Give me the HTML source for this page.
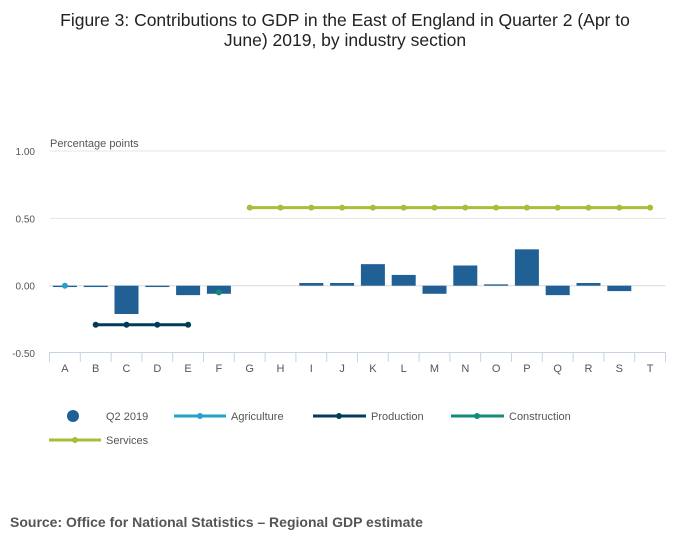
<!DOCTYPE html>
<html><head><meta charset="utf-8"><style>
body{margin:0;background:#fff;font-family:"Liberation Sans",sans-serif;}
svg text{font-family:"Liberation Sans",sans-serif;}
</style></head><body>
<svg width="700" height="549" xmlns="http://www.w3.org/2000/svg">
<text x="345" y="26" text-anchor="middle" font-size="17.5" fill="#222">Figure 3: Contributions to GDP in the East of England in Quarter 2 (Apr to</text>
<text x="345" y="46" text-anchor="middle" font-size="17.5" fill="#222">June) 2019, by industry section</text>
<text x="50" y="147" font-size="11" fill="#555">Percentage points</text>
<g id="grid"></g><g id="bars"></g><g id="lines"></g><g id="xaxis"></g>
<g>
<circle cx="73" cy="416" r="6" fill="#206095"/>
<text x="106" y="420" font-size="11" fill="#555">Q2 2019</text>
<line x1="174" y1="416" x2="226" y2="416" stroke="#27a0cc" stroke-width="3"/><circle cx="200" cy="416" r="3" fill="#27a0cc"/>
<text x="231" y="420" font-size="11" fill="#555">Agriculture</text>
<line x1="313" y1="416" x2="366" y2="416" stroke="#003c57" stroke-width="3"/><circle cx="339" cy="416" r="3" fill="#003c57"/>
<text x="371" y="420" font-size="11" fill="#555">Production</text>
<line x1="451" y1="416" x2="504" y2="416" stroke="#118c7b" stroke-width="3"/><circle cx="477" cy="416" r="3" fill="#118c7b"/>
<text x="509" y="420" font-size="11" fill="#555">Construction</text>
<line x1="49" y1="440" x2="101" y2="440" stroke="#a8bd3a" stroke-width="3"/><circle cx="75" cy="440" r="3" fill="#a8bd3a"/>
<text x="106" y="444" font-size="11" fill="#555">Services</text>
</g>
<text x="10" y="527" font-size="14" font-weight="bold" fill="#555">Source: Office for National Statistics – Regional GDP estimate</text>
</svg>
<script>
const categories=["A","B","C","D","E","F","G","H","I","J","K","L","M","N","O","P","Q","R","S","T"];
const q2Values=[-0.01,-0.01,-0.21,-0.01,-0.07,-0.06,0,0,0.02,0.02,0.16,0.08,-0.06,0.15,0.01,0.27,-0.07,0.02,-0.04,0];
const agriculture=[0,null,null,null,null,null,null,null,null,null,null,null,null,null,null,null,null,null,null,null];
const production=[null,-0.29,-0.29,-0.29,-0.29,null,null,null,null,null,null,null,null,null,null,null,null,null,null,null];
const construction=[null,null,null,null,null,-0.05,null,null,null,null,null,null,null,null,null,null,null,null,null,null];
const services=[null,null,null,null,null,null,0.58,0.58,0.58,0.58,0.58,0.58,0.58,0.58,0.58,0.58,0.58,0.58,0.58,0.58];
const yTicks=[1.0,0.5,0,-0.5];
const yTickLabels=["1.00","0.50","0.00","-0.50"];
const NS="http://www.w3.org/2000/svg";
const L=49.5,R=665.5,step=(R-L)/categories.length;
const y=v=>285.7-v*134.7;
const xc=i=>L+step*(i+0.5);
function mk(t,a,p){const e=document.createElementNS(NS,t);for(const k in a)e.setAttribute(k,a[k]);p.appendChild(e);return e;}
const grid=document.getElementById('grid');
yTicks.forEach((v,i)=>{
  if(v!==-0.5){const g=mk('line',{x1:L,x2:R,y1:y(v),y2:y(v),stroke:v===0?'#dcdcdc':'#e6e6e6','stroke-width':1},grid);
  
  }
  const t=mk('text',{x:35,y:y(v)+4,'text-anchor':'end','font-size':10,fill:'#555'},grid);t.textContent=yTickLabels[i];
  
  
});
const bars=document.getElementById('bars');
q2Values.forEach((v,i)=>{
  if(v===0)return;
  const y0=y(0),y1=y(v);let h=Math.abs(y1-y0);if(h<1.2)h=1.2;
  const r=mk('rect',{x:xc(i)-12,y:v>=0?y0-h:y0,width:24,height:h,fill:'#206095'},bars);
  
  
});
const lines=document.getElementById('lines');
[[agriculture,'#27a0cc','agriculture'],[production,'#003c57','production'],[construction,'#118c7b','construction'],[services,'#a8bd3a','services']].forEach(([arr,c,n])=>{
  const pts=[];arr.forEach((v,i)=>{if(v!==null)pts.push([xc(i),y(v)]);});
  if(pts.length>1){const p=mk('polyline',{points:pts.map(p=>p.join(',')).join(' '),fill:'none',stroke:c,'stroke-width':3},lines);
  
  }
  pts.forEach(pt=>{const d=mk('circle',{cx:pt[0],cy:pt[1],r:3,fill:c},lines);
  
  });
});
const xa=document.getElementById('xaxis');
const ax=mk('line',{x1:L,x2:R,y1:352.5,y2:352.5,stroke:'#c8d3e6','stroke-width':1},xa);


for(let i=0;i<=categories.length;i++){mk('line',{x1:L+step*i,x2:L+step*i,y1:352,y2:362,stroke:'#c8d3e6','stroke-width':1},xa);}
categories.forEach((c,i)=>{const t=mk('text',{x:xc(i),y:372,'text-anchor':'middle','font-size':11,fill:'#555'},xa);t.textContent=c;
  
  });
</script>
</body></html>
